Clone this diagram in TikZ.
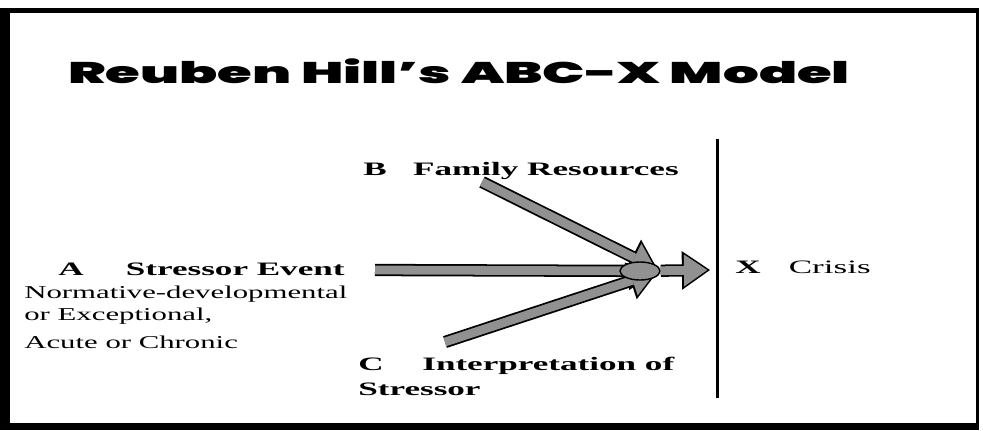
\documentclass[tikz,border=0pt]{standalone}
\usepackage{fontspec}
\setmainfont{Liberation Serif}
\newfontfamily\titlefont[FakeStretch=1.88]{Poppins Black}
\newfontfamily\labfont[FakeStretch=1.85]{Liberation Serif}
\newfontfamily\notefont[FakeStretch=1.7]{Liberation Serif}
\usetikzlibrary{arrows.meta,shapes.geometric,backgrounds}
\definecolor{arrowgray}{RGB}{145,145,145}
\newcommand\lab{\labfont\fontsize{10.8}{13}\selectfont}
\newcommand\note{\notefont\fontsize{10.3}{12}\selectfont}
\tikzset{
 txt/.style={anchor=base west,inner sep=0pt},
 fatarrow/.style={draw=black,line width=7pt,shorten >=#1,-{Triangle[length=16pt,width=22pt,line width=0pt]},
   postaction={draw=arrowgray,line width=5pt,-{Triangle[length=13.2pt,width=18.2pt,line width=0pt]},shorten >=#1+1.6pt}},
 fatarrow/.default=0pt,
 hub/.style={ellipse,draw=black,fill=arrowgray,line width=0.8pt,minimum width=0.8cm,minimum height=0.36cm,inner sep=0pt}
}
\begin{document}
\begin{tikzpicture}[x=0.02cm,y=-0.02cm]
 \useasboundingbox (0,0) rectangle (983,430);
 \node[txt] (title) at (68,83) {\titlefont\fontsize{17}{20}\selectfont Reuben Hill’s ABC-X Model};
 % labels
 \node[txt] (labA) at (58,275) {\lab\textbf{A}\hspace{24pt}\textbf{Stressor Event}};
 \node[txt] (noteA1) at (24,298) {\note Normative-developmental};
 \node[txt] (noteA2) at (24,320) {\note or Exceptional,};
 \node[txt] (noteA3) at (24,348) {\note Acute or Chronic};
 \node[txt] (labB) at (363,175) {\lab\textbf{B}\hspace{15pt}\textbf{Family Resources}};
 \node[txt] (labC) at (358,370) {\lab\textbf{C}\hspace{22pt}\textbf{Interpretation of}};
 \node[txt] (labC2) at (358,395) {\lab\textbf{Stressor}};
 \node[txt] (labX) at (735,273) {\lab\textbf{X}\hspace{16pt}Crisis};
 % arrows
 \coordinate (aStart) at (375,270);
 \coordinate (bStart) at (482,182);
 \coordinate (cStart) at (445,342);
 \coordinate (xTip) at (710,270);
 \coordinate (lineTop) at (717,139);
 \coordinate (lineBot) at (717,398);
 \node[hub] (hub) at (640,271) {};
 \begin{scope}[on background layer]
 \fill (0,8) rectangle (979,430);
 \fill[white] (10,13) rectangle (976,423);
 \foreach \s in {aStart,bStart,cStart}
    \draw[fatarrow=2pt] (\s) -- (hub.east);
 \end{scope}
 \draw[fatarrow] (hub) -- (xTip);
 \draw[line width=1.7pt] (lineTop) -- (lineBot);
\end{tikzpicture}
\end{document}
